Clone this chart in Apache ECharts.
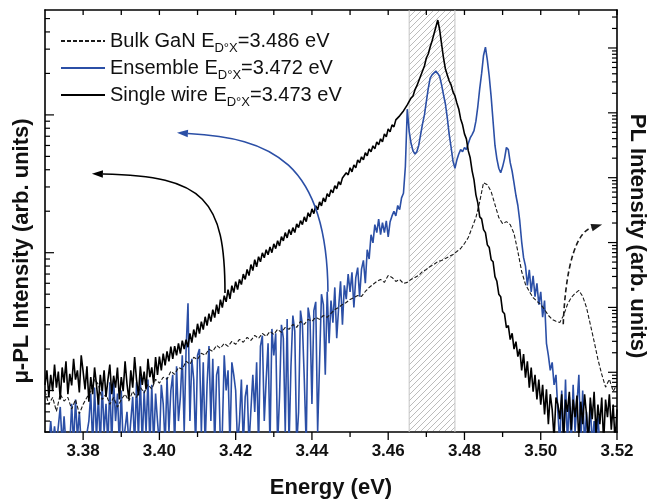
<!DOCTYPE html>
<html>
<head>
<meta charset="utf-8">
<script src="https://cdn.jsdelivr.net/npm/echarts@6/dist/echarts.min.js"></script>
<style>html,body{margin:0;background:#fff}#chart{width:650px;height:504px}</style>
</head>
<body>
<div id="chart"></div>
<script>
// spectra (arb. units), uniform energy grid in eV
const wireStart = 3.37, wireStep = 0.0005;
const singleWire = [
  11, 14, 9.0, 13, 9.9, 15.4, 10.5, 13.7, 8.6, 14.7, 11.4, 16.3, 9.4, 13.2, 10.9, 17, 12, 14, 9.7, 18,
  13.7, 10.2, 15, 8.3, 12.5, 9.4, 14.7, 11, 7.9, 13, 9.9, 14, 9.0, 12, 15.4, 9.4, 12.8, 10.5, 14.7, 8.6,
  12.5, 9.9, 16.3, 11.2, 8.6, 14, 10.5, 17.5, 12, 9.2, 15, 11, 13.7, 10.2, 17, 12.5, 14.7, 11.2, 17.5, 13,
  17.6, 14, 18.5, 15.2, 19.2, 16.3, 20.8, 17, 21, 18, 22, 18.5, 23, 20, 23.4, 20.6, 26, 22.3, 27.7, 24.3,
  30.5, 25.9, 31.6, 27.7, 34.3, 29.6, 36.1, 31.6, 38.6, 33.8, 42, 36, 45.6, 40, 48.8, 44, 54, 46.3, 57.6, 51.3,
  61.6, 54, 64, 58.7, 70, 64, 75.5, 68.3, 82, 74.2, 89, 79, 93.6, 86, 99.8, 92, 105, 96.6, 110, 100,
  116, 107, 122, 112, 131, 122, 140, 128, 147, 135, 152, 140, 162, 152, 171, 160, 182, 168, 195, 182,
  208, 192, 219, 205, 234, 219, 250, 234, 268, 255, 286, 272, 306, 291, 327, 311, 349, 338, 380, 367,
  413, 386, 434, 413, 472, 449, 496, 472, 531, 505, 567, 540, 596, 567, 637, 606, 670, 637, 728, 693,
  792, 753, 847, 819, 920, 905, 984, 968, 1069, 1052, 1181, 1202, 1327, 1373, 1518, 1622, 1762, 1917, 2084, 2266,
  2588, 2767, 3110, 3437, 3864, 4344, 4880, 4130, 3268, 2588, 2153, 1950, 1762, 1649, 1468, 1373, 1222, 1105, 935, 847,
  728, 670, 548, 488, 393, 338, 263, 230, 182, 176, 147, 140, 114, 109, 89, 86, 67, 62, 50, 48,
  37.4, 36, 28.6, 29.6, 23.4, 26, 20, 22.6, 17.6, 20, 14, 18.4, 12.4, 16.3, 10.5, 14.7, 9.8, 13, 8.6, 12,
  7.9, 11, 6.7, 10.2, 5.7, 9.4, 7.3, 4.5, 8.9, 7.9, 6.2, 9.4, 4.2, 8.6, 7.0, 9.8, 5.2, 8.6, 6.4, 9.2,
  4.2, 8.3, 5.7, 9.4, 6.7, 4.2, 8.9, 6.2, 9.8, 4.8, 7.9, 5.7, 8.9, 4.2, 8.6, 6.4, 9.4, 5.2, 7.9, 4.2, 7.3
];
const ensemble = [
  4, 4, 4, 6, 4, 5.5, 4, 4, 7.6, 4, 6.5, 4, 4, 4, 8, 4, 8.6, 4.5, 7, 4,
  4, 4, 4, 6, 9.5, 4, 10.5, 4.5, 9, 4, 11, 5, 8, 4, 11.5, 4, 12, 6, 9.5, 4,
  10, 4, 4, 7, 4, 4, 9, 4, 11.5, 4.5, 12.5, 4, 10, 5, 12, 4, 11, 4, 9.5, 6,
  4, 11, 8, 4, 12.5, 5, 10, 13, 4, 15, 6, 9, 18, 5, 20, 43, 6, 17, 12, 4,
  18, 20, 5, 16, 4, 11, 21, 6, 17, 4, 13, 15, 4, 5, 18, 10, 14, 4, 16, 13,
  10, 4, 6, 12, 4, 9, 11, 4, 4, 13, 7, 16, 4, 21, 25, 6, 12, 22, 4, 28,
  18, 26, 4, 9, 30, 24, 5, 33, 4, 15, 35, 27, 4, 7, 38, 30, 12, 4, 40, 33,
  8, 38, 44, 5, 16, 50, 42, 13, 52, 22, 45, 31, 56, 24, 40, 62, 30, 58, 46, 70,
  52, 72, 40, 66, 78, 48, 76, 88, 60, 105, 90, 135, 118, 160, 140, 175, 135, 165, 140, 170,
  130, 168, 185, 200, 185, 220, 205, 250, 270, 420, 1100, 760, 620, 550, 520, 540, 600, 720, 860, 1000,
  1250, 1550, 1850, 1950, 2000, 2080, 2000, 1900, 1650, 1400, 1200, 950, 720, 580, 460, 410, 470, 520, 560, 540,
  580, 560, 620, 680, 720, 770, 900, 1150, 1550, 2000, 2700, 3100, 2500, 1900, 1350, 900, 600, 480, 410, 380,
  420, 480, 580, 560, 450, 390, 320, 260, 220, 170, 120, 92, 80, 58, 75, 52, 68, 48, 60, 42,
  52, 34, 45, 22, 18, 14, 16, 11, 13, 7, 4, 10, 4, 12, 4, 9, 4, 11, 5, 8,
  13, 4, 10, 4, 7, 4, 8, 4, 6, 4, 6.5, 4, 4, 4, 4, 4, 4, 4, 4, 4, 4
];
// bulk GaN, right-hand axis
const bulkStart = 3.37, bulkStep = 0.001;
const bulkGaN = [
  5.1, 3.2, 4.1, 2.5, 4.6, 3.6, 4.1, 2.7, 3.8, 2.3,
  3.2, 4.1, 5.1, 7.8, 6.5, 3.8, 4.6, 3.2, 4.1, 2.9,
  3.8, 4.6, 3.6, 5.1, 4.1, 5.9, 4.8, 6.5, 5.5, 7.8,
  6.8, 8.4, 7.8, 10.4, 9.3, 11.9, 11.1, 14.8, 13.3, 17,
  15.8, 19.6, 18.3, 22.6, 21, 26, 23.4, 27.9, 25.1, 30,
  27, 32.2, 29, 34.5, 31, 37, 33.3, 39.8, 35.8, 42.7,
  38.4, 45.9, 41.2, 49.2, 45.9, 54.8, 49.2, 61, 54.8, 65.4,
  61, 70.2, 65.4, 75.3, 70.2, 80.9, 93, 100, 111, 119,
  133, 142, 153, 148, 176, 203, 226, 251, 270, 243,
  311, 290, 251, 270, 234, 243, 270, 290, 311, 358,
  385, 428, 459, 510, 529, 567, 609, 654, 727, 809,
  966, 1194, 1702, 2427, 4276, 8375, 7800, 6095, 3846, 2427,
  1959, 2103, 1892, 1375, 727, 358, 226, 176, 142, 124,
  111, 93, 75.3, 65.4, 61, 58.7, 75.3, 111, 142, 164,
  183, 148, 100, 54.8, 30, 15.8, 9.3, 5.9, 7.8, 5.1, 6.5
];

const seriesNames = ['Bulk GaN', 'Ensemble', 'Single wire'];
const peakEnergies = ['3.486', '3.472', '3.473'];
const hatchBand = [3.4655, 3.4775];
const energyLabels = ['3.38', '3.40', '3.42', '3.44', '3.46', '3.48', '3.50', '3.52'];
const energyMinor = [3.39, 3.41, 3.43, 3.45, 3.47, 3.49, 3.51];

// curved arrows: start, two control points, tip (energy, intensity)
const arrowWire = [[3.4172, 51], [3.4172, 242], [3.4120, 361], [3.3823, 374]];
const arrowEnsemble = [[3.4442, 52], [3.4440, 464], [3.4290, 681], [3.4046, 741]];
const arrowBulk = [[3.5059, 55], [3.5066, 547], [3.5098, 1476], [3.5161, 1892]];

const FONT = '"Liberation Sans", Arial, sans-serif';

function pairs(start, step, values) {
  return values.map((v, i) => [+(start + i * step).toFixed(4), v]);
}

function logTicks(lo, hi) {
  const out = [];
  for (let d = 1; d <= hi; d *= 10) {
    for (let m = 1; m <= 9; m++) {
      const v = m * d;
      if (v >= lo && v <= hi) out.push([3.4, v, m === 1 ? 1 : 0]);
    }
  }
  return out;
}

const tile = document.createElement('canvas');
tile.width = 6; tile.height = 6;
const g = tile.getContext('2d');
g.strokeStyle = '#b4b4b4';
g.lineWidth = 0.9;
g.beginPath();
g.moveTo(0, 6); g.lineTo(6, 0);
g.moveTo(-1, 1); g.lineTo(1, -1);
g.moveTo(5, 7); g.lineTo(7, 5);
g.stroke();

function yTicks(axisIndex, side, ticks) {
  return {
    type: 'custom', yAxisIndex: axisIndex, silent: true, z: 5, data: ticks,
    renderItem: function (params, api) {
      const cs = params.coordSys;
      const y = api.coord([api.value(0), api.value(1)])[1];
      const len = api.value(2) ? 9 : 5;
      const x0 = side === 'left' ? cs.x : cs.x + cs.width;
      const x1 = side === 'left' ? x0 + len : x0 - len;
      return { type: 'line', shape: { x1: x0, y1: y, x2: x1, y2: y }, style: { stroke: '#000', lineWidth: 1.2 } };
    }
  };
}

function xTicks(values, major) {
  return {
    type: 'custom', silent: true, z: 5, data: values.map(v => [v, 100]),
    renderItem: function (params, api) {
      const cs = params.coordSys;
      const x = api.coord([api.value(0), api.value(1)])[0];
      const b = cs.y + cs.height, t = cs.y;
      return { type: 'group', children: [
        { type: 'line', shape: { x1: x, y1: b, x2: x, y2: b + (major ? 8 : 5) }, style: { stroke: '#000', lineWidth: 1.3 } },
        { type: 'line', shape: { x1: x, y1: t, x2: x, y2: t + 5 }, style: { stroke: '#000', lineWidth: 1.3 } }
      ] };
    }
  };
}

function arrow(pts, color, dashed, axisIndex) {
  return {
    type: 'custom', yAxisIndex: axisIndex, silent: true, z: 4,
    data: [pts.flat()],
    renderItem: function (params, api) {
      const p = [0, 1, 2, 3].map(k => api.coord([api.value(2 * k), api.value(2 * k + 1)]));
      const a = Math.atan2(p[3][1] - p[2][1], p[3][0] - p[2][0]);
      const L = 11, W = 3.8;
      const bx = p[3][0] - L * Math.cos(a), by = p[3][1] - L * Math.sin(a);
      const head = [[p[3][0], p[3][1]],
        [bx + W * Math.sin(a), by - W * Math.cos(a)],
        [bx - W * Math.sin(a), by + W * Math.cos(a)]];
      return { type: 'group', children: [
        { type: 'bezierCurve',
          shape: { x1: p[0][0], y1: p[0][1], cpx1: p[1][0], cpy1: p[1][1], cpx2: p[2][0], cpy2: p[2][1], x2: bx, y2: by },
          style: { stroke: color, lineWidth: 1.6, fill: null, lineDash: dashed ? [5, 3] : null } },
        { type: 'polygon', shape: { points: head }, style: { fill: color } }
      ] };
    }
  };
}

const chart = echarts.init(document.getElementById('chart'));
const axisLine = { show: true, lineStyle: { color: '#000', width: 1.6 } };

chart.setOption({
  animation: false,
  backgroundColor: '#fff',
  grid: { left: 45, right: 33, top: 10, bottom: 71 },
  legend: {
    orient: 'vertical', left: 55, top: 26,
    itemWidth: 44, itemHeight: 14, itemGap: 3,
    itemStyle: { opacity: 0 },
    data: seriesNames,
    formatter: function (name) {
      const k = seriesNames.indexOf(name);
      return '{n|' + name + ' E}{s|D°X}{n|=' + peakEnergies[k] + ' eV}';
    },
    textStyle: {
      fontFamily: FONT, color: '#111',
      rich: {
        n: { fontSize: 20, lineHeight: 28, fontFamily: FONT, color: '#111' },
        s: { fontSize: 13, verticalAlign: 'bottom', fontFamily: FONT, color: '#111' }
      }
    }
  },
  xAxis: [{
    type: 'value', min: 3.37, max: 3.52, interval: 0.01, position: 'bottom',
    axisLine: axisLine, axisTick: { show: false }, splitLine: { show: false },
    axisLabel: {
      margin: 11, fontSize: 17, fontWeight: 'bold', color: '#111', fontFamily: FONT,
      formatter: v => energyLabels.includes(v.toFixed(2)) ? v.toFixed(2) : ''
    },
    name: 'Energy (eV)', nameLocation: 'middle', nameGap: 45,
    nameTextStyle: { fontSize: 22, fontWeight: 'bold', color: '#111', fontFamily: FONT }
  }, {
    type: 'value', min: 3.37, max: 3.52, interval: 0.01, position: 'top',
    axisLine: axisLine, axisTick: { show: false }, axisLabel: { show: false }, splitLine: { show: false }
  }],
  yAxis: [{
    type: 'log', logBase: 10, min: 5, max: 5770, position: 'left',
    axisLine: axisLine, axisTick: { show: false }, axisLabel: { show: false }, splitLine: { show: false }
  }, {
    type: 'log', logBase: 10, min: 1.2, max: 3.85e6, position: 'right',
    axisLine: axisLine, axisTick: { show: false }, axisLabel: { show: false }, splitLine: { show: false }
  }],
  graphic: [
    { type: 'text', x: 22, y: 251, rotation: Math.PI / 2,
      style: { text: 'μ-PL Intensity (arb. units)', fontSize: 22, fontWeight: 'bold', fontFamily: FONT,
        fill: '#111', align: 'center', verticalAlign: 'middle' } },
    { type: 'text', x: 637, y: 236, rotation: -Math.PI / 2,
      style: { text: 'PL Intensity (arb. units)', fontSize: 22, fontWeight: 'bold', fontFamily: FONT,
        fill: '#111', align: 'center', verticalAlign: 'middle' } }
  ],
  series: [
    {
      type: 'custom', silent: true, z: 1,
      data: [[hatchBand[0], 100, hatchBand[1]]],
      renderItem: function (params, api) {
        const cs = params.coordSys;
        const xa = api.coord([api.value(0), 100])[0];
        const xb = api.coord([api.value(2), 100])[0];
        return { type: 'group', children: [
          { type: 'rect', shape: { x: xa, y: cs.y + 1, width: xb - xa, height: cs.height - 2 },
            style: { fill: { image: tile, repeat: 'repeat' } } },
          { type: 'line', shape: { x1: xa, y1: cs.y, x2: xa, y2: cs.y + cs.height }, style: { stroke: '#c4c4c4', lineWidth: 1 } },
          { type: 'line', shape: { x1: xb, y1: cs.y, x2: xb, y2: cs.y + cs.height }, style: { stroke: '#c4c4c4', lineWidth: 1 } }
        ] };
      }
    },
    {
      name: 'Ensemble', type: 'line', yAxisIndex: 0, symbol: 'none', z: 2,
      data: pairs(wireStart, wireStep, ensemble),
      lineStyle: { color: '#2b4fa6', width: 1.6 }, itemStyle: { color: '#2b4fa6' }
    },
    {
      name: 'Bulk GaN', type: 'line', yAxisIndex: 1, symbol: 'none', z: 2,
      data: pairs(bulkStart, bulkStep, bulkGaN),
      lineStyle: { color: '#1a1a1a', width: 1.1, type: [4, 2] }, itemStyle: { color: '#1a1a1a' }
    },
    {
      name: 'Single wire', type: 'line', yAxisIndex: 0, symbol: 'none', z: 3,
      data: pairs(wireStart, wireStep, singleWire),
      lineStyle: { color: '#000', width: 1.6 }, itemStyle: { color: '#000' }
    },
    arrow(arrowWire, '#000', false, 0),
    arrow(arrowEnsemble, '#2b4fa6', false, 0),
    arrow(arrowBulk, '#1a1a1a', true, 1),
    yTicks(0, 'left', logTicks(5, 5770)),
    yTicks(1, 'right', logTicks(1.2, 3.85e6)),
    xTicks(energyLabels.map(Number), true),
    xTicks(energyMinor, false)
  ]
});
</script>
</body>
</html>
